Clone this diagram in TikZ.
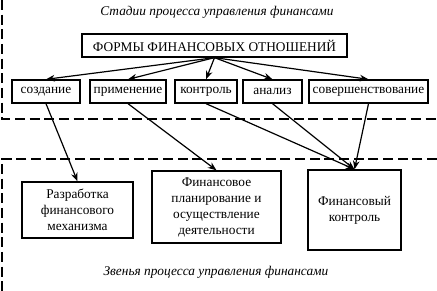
\documentclass[tikz,border=0pt]{standalone}
\usepackage{fontspec}
\setmainfont{Liberation Serif}
\usetikzlibrary{arrows.meta}
\begin{document}
\begin{tikzpicture}
% scheme of financial management drawn on a pixel grid
\def\pxsz{0.75pt}
\providecommand{\finBoxLineWidth}{1pt}
\providecommand{\finDashLineWidth}{1.6pt}
\providecommand{\finArrowLineWidth}{0.9pt}
\tikzset{
  box/.style={draw, line width=\finBoxLineWidth, inner sep=1pt, align=center, font=\fontsize{10}{12}\selectfont},
  stagebox/.style={box, minimum height=17.25pt},
  linkbox/.style={box},
  arr/.style={line width=\finArrowLineWidth, -{Stealth[length=6.5pt,width=5pt]}},
  zone/.style={line width=\finDashLineWidth, dash pattern=on 7.5pt off 3.5pt},
  caption/.style={font=\itshape\fontsize{10}{12}\selectfont}
}
\begin{scope}[x=\pxsz, y=-\pxsz]
  \useasboundingbox (0,0) rectangle (437,291);
  % Dashed zones
  \draw[zone] (2,0) -- (2,119) -- (437,119);
  \draw[zone] (437,159) -- (2,159) -- (2,291);
  % Captions
  \node[caption] (stagesCap) at (217,12) {Стадии процесса управления финансами};
  \node[caption] (linksCap) at (216,272) {Звенья процесса управления финансами};
  % Top box
  \node[stagebox, minimum width=198.75pt] (forms) at (214.5,45.5) {ФОРМЫ ФИНАНСОВЫХ ОТНОШЕНИЙ};
  % Stages
  \node[stagebox, minimum width=51pt] (sozd) at (46,91.5) {создание};
  \node[stagebox, minimum width=57pt] (primen) at (128,91.5) {применение};
  \node[stagebox, minimum width=46.5pt] (kontr) at (206,91.5) {контроль};
  \node[stagebox, minimum width=44.25pt] (analiz) at (272.5,91.5) {анализ};
  \node[stagebox, minimum width=89.25pt] (sover) at (368.5,91.5) {совершенствование};
  % Links
  \node[linkbox, minimum width=83.25pt, minimum height=42pt] (razr) at (77.5,210) {Разработка\\финансового\\механизма};
  \node[linkbox, minimum width=96.75pt, minimum height=54pt] (finplan) at (216.5,207) {Финансовое\\планирование и\\осуществление\\деятельности};
  \node[linkbox, minimum width=69.75pt, minimum height=60pt] (finkontr) at (354.5,210) {Финансовый\\контроль};
  % Arrows from forms to stages
  \draw[arr] (forms.south) -- (sozd.north);
  \draw[arr] (forms.south) -- (primen.north);
  \draw[arr] (forms.south) -- (kontr.north);
  \draw[arr] (forms.south) -- (analiz.north);
  \draw[arr] (forms.south) -- (sover.north);
  % Arrows from stages to links
  \draw[arr] (sozd.south) -- (razr.north);
  \draw[arr] (primen.south) -- (finplan.north);
  \draw[arr] (kontr.south) -- (finkontr.north);
  \draw[arr] (analiz.south) -- (finkontr.north);
  \draw[arr] (sover.south) -- (finkontr.north);
\end{scope}
\end{tikzpicture}
\end{document}
